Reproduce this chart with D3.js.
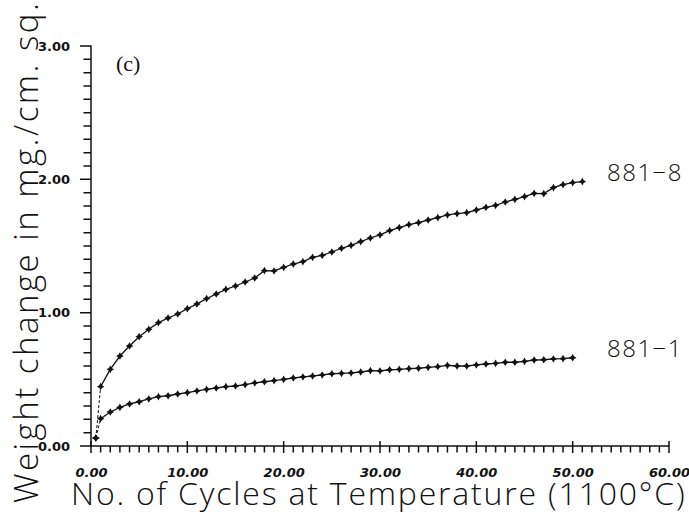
<!DOCTYPE html>
<html>
<head>
<meta charset="utf-8">
<script src="https://cdn.jsdelivr.net/npm/d3@7"></script>
<style>
  body { margin: 0; background: #fff; }
  svg { display: block; }
</style>
</head>
<body>
<svg id="chart" width="689" height="513"></svg>
<script>
// cycles at temperature and weight change (mg/cm^2)
const cycles8 = [0.5, 1, 2, 3, 4, 5, 6, 7, 8, 9, 10, 11, 12, 13, 14, 15, 16, 17, 18, 19, 20,
  21, 22, 23, 24, 25, 26, 27, 28, 29, 30, 31, 32, 33, 34, 35, 36, 37, 38, 39, 40,
  41, 42, 43, 44, 45, 46, 47, 48, 49, 50, 51];
const weight8 = [0.06, 0.445, 0.575, 0.675, 0.75, 0.82, 0.875, 0.925, 0.96, 0.99, 1.03,
  1.065, 1.105, 1.14, 1.175, 1.20, 1.23, 1.26, 1.315, 1.313, 1.34,
  1.365, 1.383, 1.415, 1.43, 1.455, 1.483, 1.505, 1.533, 1.56, 1.583,
  1.615, 1.638, 1.66, 1.675, 1.695, 1.713, 1.733, 1.743, 1.75, 1.77,
  1.79, 1.805, 1.83, 1.85, 1.87, 1.895, 1.893, 1.938, 1.96, 1.975, 1.983];

const cycles1 = [0.5, 1, 2, 3, 4, 5, 6, 7, 8, 9, 10, 11, 12, 13, 14, 15, 16, 17, 18, 19, 20,
  21, 22, 23, 24, 25, 26, 27, 28, 29, 30, 31, 32, 33, 34, 35, 36, 37, 38, 39, 40,
  41, 42, 43, 44, 45, 46, 47, 48, 49, 50];
const weight1 = [0.06, 0.205, 0.255, 0.29, 0.315, 0.332, 0.353, 0.37, 0.377, 0.39, 0.40,
  0.413, 0.425, 0.435, 0.445, 0.45, 0.46, 0.473, 0.482, 0.49, 0.50,
  0.51, 0.518, 0.525, 0.533, 0.542, 0.545, 0.548, 0.555, 0.565, 0.563,
  0.572, 0.575, 0.58, 0.583, 0.59, 0.596, 0.605, 0.60, 0.60, 0.608,
  0.615, 0.62, 0.628, 0.628, 0.635, 0.645, 0.647, 0.653, 0.655, 0.662];

const seriesNames = ["881-8", "881-1"];
const xTicks = [0, 10, 20, 30, 40, 50, 60];
const yTicks = [0, 1, 2, 3];

const svg = d3.select("#chart");
const x = d3.scaleLinear().domain([0, 60]).range([91, 669]);
const y = d3.scaleLinear().domain([0, 3]).range([446, 46]);

const ink = "#111";
const fmt = d3.format(".2f");

// tick positions: every cycle on x, every 0.1 on y
const xMinor = [];
for (let i = 0; i <= 60; i++) xMinor.push(i);
const yMinor = [];
for (let i = 0; i <= 30; i++) yMinor.push(i / 10);
const isMajorX = d => xTicks.indexOf(d) >= 0;
const isMajorY = d => yTicks.some(t => Math.abs(t - d) < 1e-9);

// each axis is one continuous comb-shaped polyline: along the axis, out to the tick and back
const combX = [];
xMinor.forEach(d => {
  const px = x(d), py = y(0);
  combX.push([px, py]);
  if (isMajorX(d)) { combX.push([px, py - 5]); combX.push([px, py + 7]); }
  else combX.push([px, py + 6.5]);
  combX.push([px, py]);
});
const combY = [];
yMinor.forEach(d => {
  const px = x(0), py = y(d);
  combY.push([px, py]);
  combY.push([isMajorY(d) ? px - 11 : px - 7.5, py]);
  combY.push([px, py]);
});

const poly = d3.line();
svg.append("path")
  .attr("d", poly(combX))
  .attr("fill", "none")
  .attr("stroke", ink)
  .attr("stroke-width", 1.5)
  .attr("stroke-linejoin", "miter");
svg.append("path")
  .attr("d", poly(combY))
  .attr("fill", "none")
  .attr("stroke", ink)
  .attr("stroke-width", 1.5)
  .attr("stroke-linejoin", "miter");

// tick labels through d3 axes (axis line drawn by the combs above)
svg.append("g")
  .attr("transform", `translate(0,${y(0)})`)
  .call(d3.axisBottom(x).tickValues(xTicks).tickSize(0).tickSizeOuter(0).tickPadding(22).tickFormat(fmt))
  .call(g => g.select(".domain").remove())
  .call(g => g.selectAll("text")
    .style("font", "bold italic 13px 'DejaVu Sans'")
    .attr("fill", ink));
svg.append("g")
  .attr("transform", `translate(${x(0)},0)`)
  .call(d3.axisLeft(y).tickValues(yTicks).tickSize(0).tickSizeOuter(0).tickPadding(21).tickFormat(fmt))
  .call(g => g.select(".domain").remove())
  .call(g => g.selectAll("text")
    .style("font", "bold 13px 'DejaVu Sans'")
    .attr("fill", ink));

// axis titles
svg.append("text")
  .attr("transform", "translate(38,503) rotate(-90)")
  .style("font", "300 33px 'Open Sans', 'Liberation Sans', sans-serif")
  .style("letter-spacing", "2.5px")
  .attr("fill", ink)
  .text("Weight change in mg./cm. sq.");

svg.append("text")
  .attr("x", 71).attr("y", 505)
  .style("font", "300 32px 'Open Sans', 'Liberation Sans', sans-serif")
  .style("letter-spacing", "1.8px")
  .attr("fill", ink)
  .text("No. of Cycles at Temperature (1100°C)");

svg.append("text")
  .attr("x", 116).attr("y", 71)
  .style("font", "22px 'Liberation Serif', serif")
  .attr("fill", ink)
  .text("(c)");

// four point star marker
function star(cx, cy) {
  const r = 3.8, w = 1.4;
  return `M${cx},${cy - r}L${cx + w},${cy - w}L${cx + r},${cy}L${cx + w},${cy + w}` +
    `L${cx},${cy + r}L${cx - w},${cy + w}L${cx - r},${cy}L${cx - w},${cy - w}Z`;
}

const series = [
  { name: seriesNames[0], xs: cycles8, ys: weight8 },
  { name: seriesNames[1], xs: cycles1, ys: weight1 }
];

const line = d3.line().x(d => x(d[0])).y(d => y(d[1]));

series.forEach(s => {
  const pts = s.xs.map((c, i) => [c, s.ys[i]]);
  // first segment from the start point is drawn dashed
  svg.append("path")
    .datum(pts.slice(0, 2))
    .attr("fill", "none")
    .attr("stroke", ink)
    .attr("stroke-width", 1)
    .attr("stroke-dasharray", "3,2")
    .attr("d", line);
  svg.append("path")
    .datum(pts.slice(1))
    .attr("fill", "none")
    .attr("stroke", ink)
    .attr("stroke-width", 1.3)
    .attr("d", line);
  svg.append("g").selectAll("path").data(pts).join("path")
    .attr("d", d => star(x(d[0]), y(d[1])))
    .attr("fill", ink);
  const last = pts[pts.length - 1];
  svg.append("text")
    .attr("x", 607).attr("y", y(last[1]) - 1)
    .style("font", "300 24px 'Open Sans', 'Liberation Sans', sans-serif")
    .style("letter-spacing", "1.5px")
    .attr("fill", ink)
    .text(s.name.replace("-", "\u2212"));
});
</script>
</body>
</html>
